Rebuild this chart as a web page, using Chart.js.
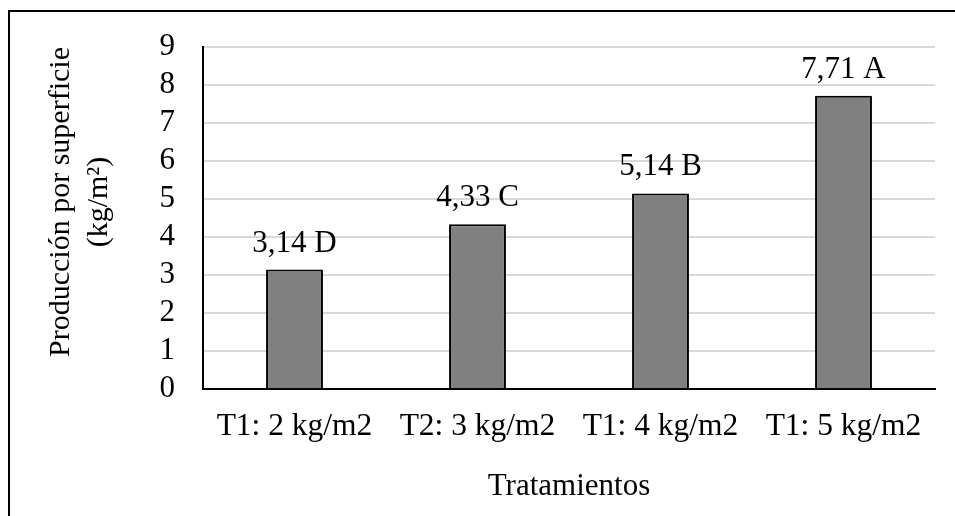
<!DOCTYPE html>
<html lang="es">
<head>
<meta charset="utf-8">
<title>Producción por superficie</title>
<script src="https://cdn.jsdelivr.net/npm/chart.js@4"></script>
<style>
  html, body { margin: 0; padding: 0; background: #fff; }
  canvas { display: block; }
</style>
</head>
<body>
<canvas id="chart" width="955" height="516"></canvas>
<script>
// Tratamientos y producción media (kg/m²) con letras de agrupación
const categories = ['T1: 2 kg/m2', 'T2: 3 kg/m2', 'T1: 4 kg/m2', 'T1: 5 kg/m2'];
const produccion = [3.14, 4.33, 5.14, 7.71];
const letras = ['D', 'C', 'B', 'A'];
const yTicks = [0, 1, 2, 3, 4, 5, 6, 7, 8, 9];
const yTitle = ['Producción por superficie', '(kg/m²)'];

const FONT = "'Liberation Serif', 'Times New Roman', Times, serif";

// Marco exterior del gráfico
const framePlugin = {
  id: 'frame',
  beforeDraw(chart) {
    const ctx = chart.ctx;
    ctx.save();
    ctx.fillStyle = '#fff';
    ctx.fillRect(0, 0, chart.width, chart.height);
    ctx.strokeStyle = '#000';
    ctx.lineWidth = 2;
    ctx.strokeRect(9, 11, chart.width + 40, chart.height + 40);
    ctx.restore();
  }
};

// Título del eje vertical, en dos líneas giradas
const yTitlePlugin = {
  id: 'yTitle',
  afterDraw(chart) {
    const ctx = chart.ctx;
    ctx.save();
    ctx.font = '30px ' + FONT;
    ctx.fillStyle = '#000';
    ctx.textAlign = 'center';
    ctx.textBaseline = 'middle';
    ctx.translate(61, 202);
    ctx.rotate(-Math.PI / 2);
    yTitle.forEach((line, i) => ctx.fillText(line, 0, i * 38));
    ctx.restore();
  }
};

// Etiqueta de valor y letra encima de cada barra
const valueLabels = {
  id: 'valueLabels',
  afterDatasetsDraw(chart) {
    const ctx = chart.ctx;
    const meta = chart.getDatasetMeta(0);
    ctx.save();
    ctx.font = '31px ' + FONT;
    ctx.fillStyle = '#000';
    ctx.textAlign = 'center';
    ctx.textBaseline = 'alphabetic';
    meta.data.forEach((bar, i) => {
      const txt = produccion[i].toFixed(2).replace('.', ',') + ' ' + letras[i];
      ctx.fillText(txt, bar.x, bar.y - 18);
    });
    ctx.restore();
  }
};

new Chart(document.getElementById('chart'), {
  type: 'bar',
  data: {
    labels: categories,
    datasets: [{
      data: produccion,
      backgroundColor: '#808080',
      borderColor: '#000',
      borderWidth: 2,
      barPercentage: 0.311,
      categoryPercentage: 1.0
    }]
  },
  options: {
    responsive: false,
    animation: false,
    devicePixelRatio: 1,
    layout: { padding: { left: 0, right: 20, top: 42, bottom: 0 } },
    plugins: {
      legend: { display: false },
      tooltip: { enabled: false }
    },
    scales: {
      x: {
        grid: { display: false, drawTicks: false },
        border: { color: '#000', width: 2 },
        ticks: {
          color: '#000',
          font: { family: FONT, size: 31.5 },
          padding: 19,
          maxRotation: 0,
          autoSkip: false
        },
        title: {
          display: true,
          text: 'Tratamientos',
          color: '#000',
          font: { family: FONT, size: 31, lineHeight: 1.2 },
          padding: { top: 0, bottom: 11 }
        },
        afterFit(scale) { scale.height = 127; }
      },
      y: {
        min: 0,
        max: 9,
        afterBuildTicks(scale) { scale.ticks = yTicks.map(v => ({ value: v })); },
        grid: { color: '#d9d9d9', lineWidth: 2, drawTicks: false },
        border: { color: '#000', width: 2 },
        ticks: {
          color: '#000',
          font: { family: FONT, size: 31 },
          padding: 28,
          autoSkip: false,
          callback: v => String(v)
        },
        afterFit(scale) { scale.width = 203; }
      }
    }
  },
  plugins: [framePlugin, valueLabels, yTitlePlugin]
});
</script>
</body>
</html>
